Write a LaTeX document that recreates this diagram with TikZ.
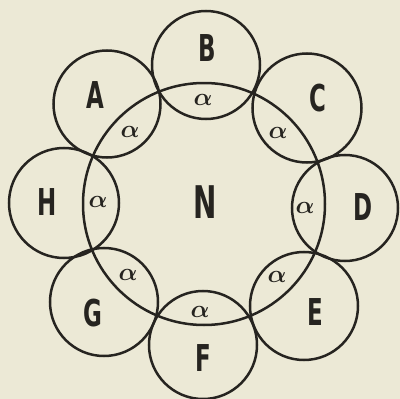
\documentclass[tikz,border=0pt]{standalone}
\usepackage{bm}
\usepackage{fontspec}
\newfontfamily\labfont[FakeStretch=0.62]{DejaVu Sans}
\definecolor{paper}{RGB}{236,233,214}
\definecolor{ink}{RGB}{38,36,32}
\begin{document}
\begin{tikzpicture}[x=1pt,y=-1pt,
  ring/.style={draw=ink,line width=2.5pt,circle,inner sep=0pt},
  lab/.style={text=ink,font=\labfont\bfseries\fontsize{37}{37}\selectfont,inner sep=0pt},
  biglab/.style={text=ink,font=\labfont\bfseries\fontsize{45}{45}\selectfont,inner sep=0pt},
  alf/.style={text=ink,font=\fontsize{23}{23}\selectfont,inner sep=0pt}]
\fill[paper] (0,0) rectangle (400,399);
\useasboundingbox (0,0) rectangle (400,399);
% big circle
\node[ring,minimum size=242pt] (N) at (204,204) {};
% small circles
\node[ring,minimum size=108pt] (cB) at (206,65) {};
\node[ring,minimum size=108pt] (cF) at (203,345) {};
\node[ring,minimum size=110pt] (cH) at (64,203) {};
\node[ring,minimum size=106pt] (cD) at (345,208) {};
\node[ring,minimum size=107pt] (cA) at (107,104) {};
\node[ring,minimum size=109pt] (cC) at (307,108) {};
\node[ring,minimum size=108pt] (cG) at (104,302) {};
\node[ring,minimum size=108pt] (cE) at (304,306) {};
% labels
\node[biglab] (tN) at (205,202) {N};
\node[lab] (tA) at (95,95) {A};
\node[lab] (tB) at (207,48) {B};
\node[lab] (tC) at (318,98) {C};
\node[lab] (tD) at (363,207) {D};
\node[lab] (tE) at (315,312) {E};
\node[lab] (tF) at (203,358) {F};
\node[lab] (tG) at (93,313) {G};
\node[lab] (tH) at (47,202) {H};
% alphas
\node[alf] (aB) at (203,100) {$\bm{\alpha}$};
\node[alf] (aA) at (130,132) {$\bm{\alpha}$};
\node[alf] (aC) at (278,133) {$\bm{\alpha}$};
\node[alf] (aH) at (98,202) {$\bm{\alpha}$};
\node[alf] (aD) at (305,208) {$\bm{\alpha}$};
\node[alf] (aG) at (128,275) {$\bm{\alpha}$};
\node[alf] (aE) at (277,277) {$\bm{\alpha}$};
\node[alf] (aF) at (200,312) {$\bm{\alpha}$};
\end{tikzpicture}
\end{document}
